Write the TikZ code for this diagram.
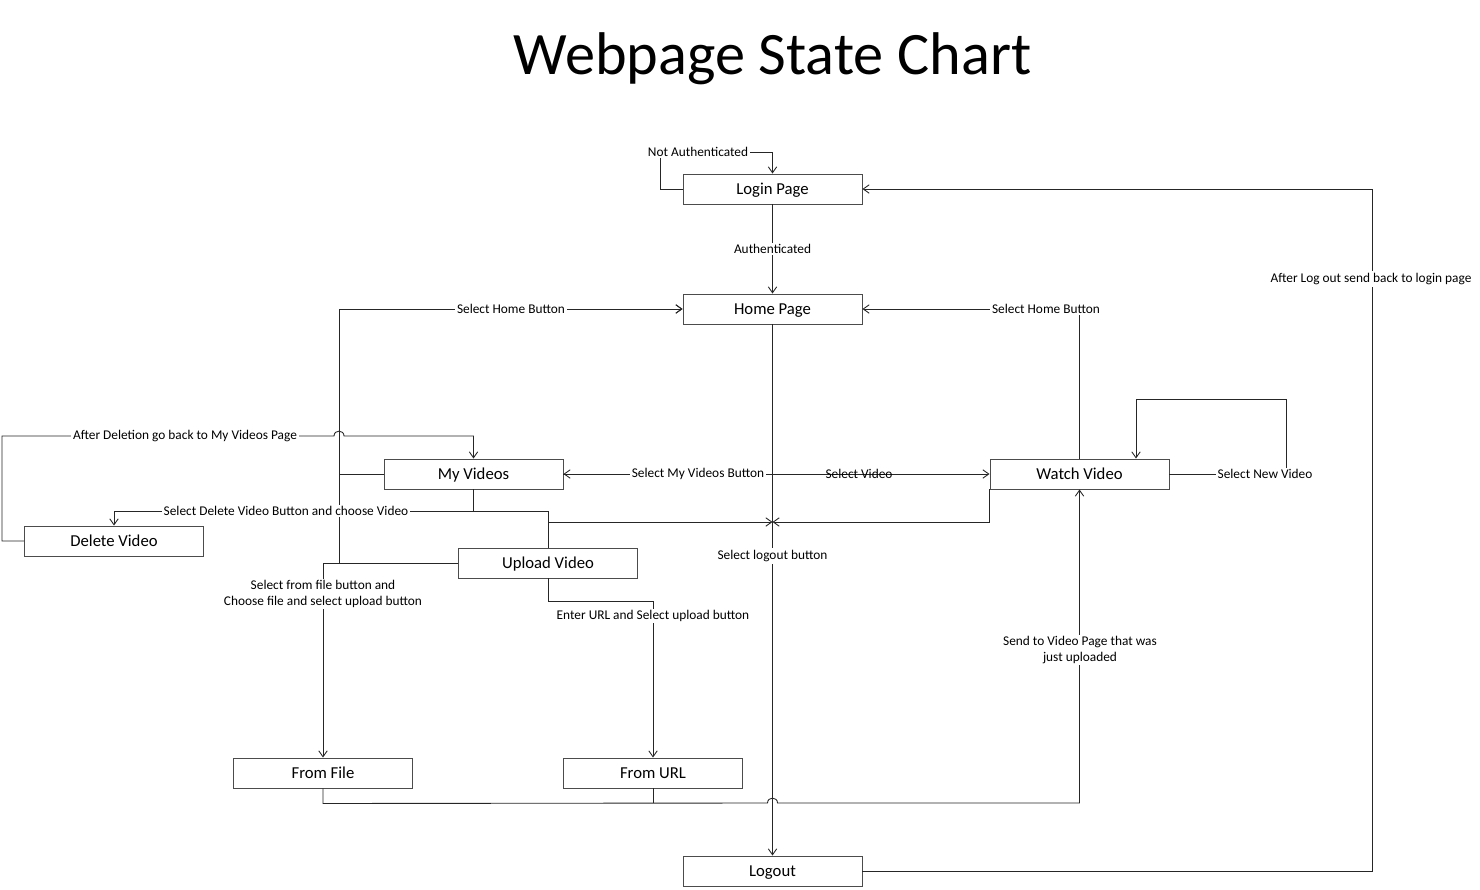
\documentclass[tikz,border=0pt]{standalone}
\usepackage{fontspec}
\setmainfont{Carlito}
\usetikzlibrary{arrows.meta}
\begin{document}
\begin{tikzpicture}[x=0.02cm,y=-0.02cm,
  state/.style={draw=black!70, line width=0.55pt, minimum width=3.58cm, minimum height=0.6cm, inner sep=0pt, text height=0.64em, text depth=0pt, font=\fontsize{9.5}{10}\selectfont},
  lbl/.style={fill=white, inner sep=1pt, font=\fontsize{7.6}{9}\selectfont, align=center},
  link/.style={draw=black!85, line width=0.5pt},
  >={Straight Barb[length=3.4pt,width=4.8pt]}]
\useasboundingbox (0,0) rectangle (1480,889);
\node[anchor=base, font=\fontsize{34.3}{40}\selectfont] (title) at (772.5,74) {Webpage State Chart};
\node[state] (login) at (772.5,189) {Login Page};
\node[state] (home) at (772.5,309) {Home Page};
\node[state] (myv) at (473.5,474) {My Videos};
\node[state] (watch) at (1079.5,474) {Watch Video};
\node[state] (del) at (114,541) {Delete Video};
\node[state] (upl) at (548,563) {Upload Video};
\node[state] (file) at (323,773) {From File};
\node[state] (url) at (653,773) {From URL};
\node[state] (logout) at (772.5,871) {Logout};
\coordinate (jn) at (772.5,522);
\draw[link,->] (login.west) -| (660,152) -| (login.north);
\draw[link,->] (login) -- (home);
\draw[link,->] (home.south) -- (logout.north);
\draw[link,->] (myv.west) -| (339,309) -- (home.west);
\draw[link,->] (upl.west) -| (339,309) -- (home.west);
\draw[link,->] (watch.north) |- (home.east);
\draw[link,->] (home.south) |- (myv.east);
\draw[link,->] (myv.east) -- (watch.west);
\draw[link,->] (watch.east) -| (1286,399) -| ([xshift=1.13cm]watch.north);
\draw[link,->] (myv.south) -- ++(0,22) -| (del.north);
\draw[link] (myv.south) -- ++(0,22) -| (upl.north);
\draw[link,->] (del.west) -- ++(-22,0) |- (334,436) .. controls (334,429.5) and (344,429.5) .. (344,436) -| (myv.north);
\draw[link,->] (upl.north) |- (jn);
\draw[link,->] (watch.south west) |- (jn);
\draw[link,->] (upl.west) -| (file.north);
\draw[link,->] (upl.south) -- ++(0,23) -| (url.north);
\draw[link,->] (file.south) -- ++(0,15) -- (767.5,803) .. controls (767.5,796.5) and (777.5,796.5) .. (777.5,803) -| (watch.south);
\draw[link] (url.south) -- ++(0,15);
\draw[link,->] (logout.east) -| (1372,189) -- (login.east);
\node[lbl] (lnot) at (698,152) {Not Authenticated};
\node[lbl] (lauth) at (772.5,249) {Authenticated};
\node[lbl] (lhomel) at (511,309) {Select Home Button};
\node[lbl] (lhomer) at (1046,309) {Select Home Button};
\node[lbl] (lafter) at (1371,279) {After Log out send back to login page};
\node[lbl] (ldeleted) at (185,436) {After Deletion go back to My Videos Page};
\node[lbl] (lmyv) at (698,474) {Select My Videos Button};
\node[lbl, fill=none] (lsel) at (859,474) {Select Video};
\node[lbl] (lnew) at (1265,474) {Select New Video};
\node[lbl] (ldel) at (286,511) {Select Delete Video Button and choose Video};
\node[lbl] (lout) at (772.5,556) {Select logout button};
\node[lbl] (lfile) at (323,594) {Select from file button and\\Choose file and select upload button};
\node[lbl] (lurl) at (653,616) {Enter URL and Select upload button};
\node[lbl] (lsend) at (1080,650) {Send to Video Page that was\\just uploaded};
\end{tikzpicture}
\end{document}
